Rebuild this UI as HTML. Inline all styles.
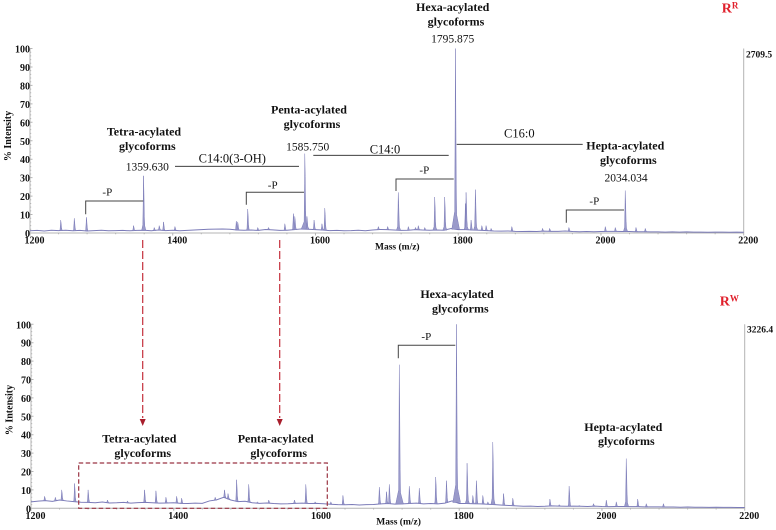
<!DOCTYPE html>
<html lang="en">
<head>
<meta charset="utf-8">
<title>MALDI spectra of RR and RW lipid A glycoforms</title>
<style>
html,body{margin:0;padding:0;background:#fff;}
svg{display:block;font-family:"Liberation Serif",serif;}
.tick{font-size:10px;font-weight:bold;fill:#111;}
.head{font-size:12px;font-weight:bold;fill:#111;text-anchor:middle;}
.val{font-size:11.5px;fill:#111;text-anchor:middle;}
.ann{font-size:12.5px;fill:#111;text-anchor:middle;}
.pl{font-size:11px;fill:#111;text-anchor:middle;}
.br{fill:none;stroke:#444;stroke-width:1;}
.ln{fill:none;stroke:#222;stroke-width:0.9;}
.ax{fill:none;stroke:#b4b4b4;stroke-width:1;}
.red{fill:#e0202c;font-weight:bold;}
</style>
</head>
<body>
<svg id="chart" width="776" height="530" viewBox="0 0 776 530" xmlns="http://www.w3.org/2000/svg">
  <g id="top-panel"></g>
  <g id="bottom-panel"></g>

  <!-- Top panel annotations -->
  <text class="tick" transform="translate(11,136) rotate(-90)" text-anchor="middle">% Intensity</text>
  <text class="tick" x="375" y="249.5" style="font-size:9.5px">Mass (m/z)</text>
  <text class="tick" x="746" y="57.3" style="font-size:9.5px">2709.5</text>

  <text class="head" x="144" y="135.7">Tetra-acylated</text>
  <text class="head" x="147.3" y="150">glycoforms</text>
  <text class="val" x="147.3" y="170.7">1359.630</text>
  <text class="head" x="309" y="113.7">Penta-acylated</text>
  <text class="head" x="312" y="128">glycoforms</text>
  <text class="val" x="307.7" y="150.7">1585.750</text>
  <text class="head" x="452.7" y="11">Hexa-acylated</text>
  <text class="head" x="456" y="25.3">glycoforms</text>
  <text class="val" x="452.7" y="42.3">1795.875</text>
  <text class="head" x="625.3" y="149.7">Hepta-acylated</text>
  <text class="head" x="628.3" y="164">glycoforms</text>
  <text class="val" x="626" y="181.7">2034.034</text>

  <text class="ann" x="232.3" y="162.7">C14:0(3-OH)</text>
  <path class="ln" d="M175 166.3H299"/>
  <text class="ann" x="385" y="153.3">C14:0</text>
  <path class="ln" d="M313.3 155.3H448.7"/>
  <text class="ann" x="519.3" y="137.3">C16:0</text>
  <path class="ln" d="M456.7 144.3H582.7"/>

  <text class="pl" x="107.3" y="195.7">-P</text>
  <path class="br" d="M85.7 214.3V201H143.3"/>
  <text class="pl" x="272.7" y="188.7">-P</text>
  <path class="br" d="M246.3 204.7V192.3H304"/>
  <text class="pl" x="424.3" y="173.3">-P</text>
  <path class="br" d="M396 191V179H453.7"/>
  <text class="pl" x="594.3" y="204.7">-P</text>
  <path class="br" d="M566.3 222.7V210H624"/>

  <text class="red" x="721.7" y="12.7" style="font-size:14px">R<tspan dy="-4" style="font-size:9px">R</tspan></text>

  <!-- Bottom panel annotations -->
  <text class="tick" transform="translate(12.5,410) rotate(-90)" text-anchor="middle">% Intensity</text>
  <text class="tick" x="376.3" y="524.3" style="font-size:9.5px">Mass (m/z)</text>
  <text class="tick" x="747" y="332.7" style="font-size:9.5px">3226.4</text>

  <text class="head" x="457" y="298">Hexa-acylated</text>
  <text class="head" x="460.3" y="312.3">glycoforms</text>
  <text class="pl" x="426.3" y="340">-P</text>
  <path class="br" d="M398.3 358.3V345.3H455.3"/>
  <text class="head" x="623.3" y="431">Hepta-acylated</text>
  <text class="head" x="626.3" y="445">glycoforms</text>
  <text class="head" x="139.3" y="442.7">Tetra-acylated</text>
  <text class="head" x="142.7" y="457">glycoforms</text>
  <text class="head" x="275.7" y="442.7">Penta-acylated</text>
  <text class="head" x="278.7" y="457">glycoforms</text>
  <text class="red" x="719.7" y="305.7" style="font-size:14px">R<tspan dy="-4" style="font-size:9px">W</tspan></text>

  <rect x="78.7" y="463" width="248.6" height="45.3" fill="none" stroke="#9b3544" stroke-width="1.2" stroke-dasharray="4.5 2.5"/>
  <path d="M142.7 240V418" fill="none" stroke="#c4303c" stroke-width="1.2" stroke-dasharray="8 3"/>
  <path d="M139.7 419H145.7L142.7 426Z" fill="#a81e2c"/>
  <path d="M279.7 240V418" fill="none" stroke="#c4303c" stroke-width="1.2" stroke-dasharray="8 3"/>
  <path d="M276.7 419H282.7L279.7 426Z" fill="#a81e2c"/>
</svg>

<script>
const massTicks = [1200, 1400, 1600, 1800, 2000, 2200];
const intensityTicks = [0, 10, 20, 30, 40, 50, 60, 70, 80, 90, 100];

// Baseline intensity read every 10 m/z, from 1200 to 2200
const baselineMass = [1200,1210,1220,1230,1240,1250,1260,1270,1280,1290,1300,1310,1320,1330,1340,1350,1360,1370,1380,1390,1400,1410,1420,1430,1440,1450,1460,1470,1480,1490,1500,1510,1520,1530,1540,1550,1560,1570,1580,1590,1600,1610,1620,1630,1640,1650,1660,1670,1680,1690,1700,1710,1720,1730,1740,1750,1760,1770,1780,1790,1800,1810,1820,1830,1840,1850,1860,1870,1880,1890,1900,1910,1920,1930,1940,1950,1960,1970,1980,1990,2000,2010,2020,2030,2040,2050,2060,2070,2080,2090,2100,2110,2120,2130,2140,2150,2160,2170,2180,2190,2200];
const topBaseline = [1.2,1.4,1.1,1.5,1.3,1.5,1.2,1.4,1.1,1.3,1.5,1.2,1.3,1.4,1.2,1.4,1.5,1.2,1.6,1.3,1.5,1.2,1.4,1.6,1.8,2.0,2.1,2.2,2.0,1.6,1.5,1.6,1.4,1.9,1.7,1.4,1.5,1.8,2.2,2.0,1.8,1.6,1.3,1.4,1.2,1.3,1.5,1.2,1.6,1.9,1.8,1.6,1.4,1.5,1.8,1.6,1.5,1.6,1.5,2.4,1.8,1.8,1.6,1.5,1.3,1.1,1.0,1.1,0.9,0.8,0.9,0.8,1.0,0.9,0.9,1.1,0.8,0.7,0.8,0.7,0.8,0.9,0.9,0.8,0.8,0.7,0.7,0.6,0.6,0.5,0.6,0.5,0.6,0.5,0.5,0.4,0.5,0.5,0.4,0.5,0.4];
const bottomBaseline = [3.5,3.9,4.2,3.8,4.5,4.0,3.6,3.3,3.2,3.0,3.4,2.9,3.0,3.2,2.8,3.1,3.2,3.0,2.8,2.9,3.0,2.7,2.6,2.8,2.7,4.0,4.6,6.0,4.5,3.6,3.8,3.0,2.7,2.9,2.6,2.4,2.5,2.7,2.8,2.6,2.7,2.5,2.2,2.0,1.9,2.1,1.8,2.0,2.1,2.4,2.6,2.3,2.4,2.6,2.8,2.4,2.6,2.4,2.8,4.0,2.6,2.6,2.5,2.4,2.2,2.0,1.7,1.5,1.3,1.1,1.2,1.0,1.1,1.3,1.2,1.1,1.2,1.1,1.0,1.2,1.0,0.9,1.0,1.0,0.9,0.9,0.8,0.8,0.8,0.7,0.7,0.6,0.7,0.6,0.6,0.5,0.6,0.5,0.5,0.4,0.4];

// Top spectrum peaks
const topPeakMass = [1243,1262,1279,1345,1359,1374,1381,1387,1403,1489,1491,1505,1519,1534,1557,1569,1571,1585,1588,1598,1609,1613,1688,1701,1716,1730,1740,1744,1753,1767,1781,1796,1810,1811,1818,1824,1833,1839,1846,1875,1918,1928,1955,2006,2020,2034,2049,2062];
const topPeakIntensity = [7,8,8.5,4,31,3,4,6,3.5,6.5,6,13,3,3,5,10.5,9,43,9,7,5,13.5,3.5,3.5,22,3.5,3,4,3,19.5,19.5,100,16,22,7,23.5,4,4,2.5,3.5,2.5,2.5,3,3.5,3,23,3,2.5];

// Bottom spectrum peaks
const bottomPeakMass = [1219,1234,1243,1261,1280,1307,1335,1359,1375,1389,1404,1411,1458,1471,1476,1488,1505,1517,1533,1569,1585,1598,1620,1637,1688,1698,1702,1716,1730,1744,1767,1782,1796,1811,1819,1824,1833,1840,1847,1862,1875,1927,1940,1954,1968,1988,2006,2020,2034,2050,2062,2086];
const bottomPeakIntensity = [6.5,6,10,13.5,10,4.5,4,10,9.5,6,6.5,5.5,6,10,8,15.5,13,3.5,4.5,4.5,13,3.5,3.5,7,11.5,9,13,78,12,11,17,15,100,24.5,7,15,7,3.5,36,8,5.5,5,2,12,1.5,2.5,4.5,3.5,27,5,2.5,2.5];

const NS = 'http://www.w3.org/2000/svg';

function baselineAt(mass, series) {
  const step = baselineMass[1] - baselineMass[0];
  const i = Math.min(baselineMass.length - 2, Math.max(0, Math.floor((mass - baselineMass[0]) / step)));
  const t = (mass - baselineMass[i]) / step;
  return series[i] + (series[i + 1] - series[i]) * t;
}

function drawPanel(root, geo, baseline, peakMass, peakIntensity) {
  const xScale = function (m) { return geo.x0 + (m - 1200) * (geo.x1 - geo.x0) / 1000; };
  const yScale = function (v) { return geo.y0 - v * (geo.y0 - geo.y100) / 100; };

  // Axes
  const axes = document.createElementNS(NS, 'path');
  
  
  axes.setAttribute('class', 'ax');
  let axisPath = 'M' + geo.x0 + ' ' + geo.y100 + 'V' + geo.y0 + 'H' + geo.x1 + 'V' + geo.y100;
  for (let v = 0; v <= 100; v += 2) {
    const len = v % 10 === 0 ? 2.5 : 1.2;
    axisPath += 'M' + geo.x0 + ' ' + yScale(v) + 'h' + len;
  }
  for (let m = 1200; m <= 2200; m += 40) {
    axisPath += 'M' + xScale(m) + ' ' + geo.y0 + 'v' + (m % 200 === 0 ? 2.5 : 1.2);
  }
  axes.setAttribute('d', axisPath);
  root.appendChild(axes);

  // Baseline trace: a line above the axis, unfilled
  let trace = '';
  baselineMass.forEach(function (m, i) {
    trace += (i === 0 ? 'M' : 'L') + xScale(m).toFixed(2) + ' ' + yScale(baseline[i]).toFixed(2);
  });
  const base = document.createElementNS(NS, 'path');
  
  
  base.setAttribute('d', trace);
  base.setAttribute('fill', 'none');
  base.setAttribute('stroke', '#7b7bb8');
  base.setAttribute('stroke-width', '1');
  root.appendChild(base);

  // Peaks rising from the baseline, narrow with a short isotope shoulder
  peakMass.forEach(function (m, i) {
    const h = peakIntensity[i];
    const b = baselineAt(m, baseline);
    const top = Math.max(h, b);
    const rise = top - b;
    const footW = rise > 40 ? 5 : (rise > 15 ? 2.5 : 1.4);
    const pts = [
      [m - footW, b],
      [m - 0.9, b + rise * 0.1],
      [m - 0.3, b + rise * 0.6],
      [m, top],
      [m + 0.6, b + rise * 0.7],
      [m + 1.2, b + rise * 0.25],
      [m + 1.8, b + rise * 0.08],
      [m + footW + 0.8, b]
    ];
    let d = '';
    pts.forEach(function (p, k) {
      d += (k === 0 ? 'M' : 'L') + xScale(p[0]).toFixed(2) + ' ' + yScale(p[1]).toFixed(2);
    });
    d += 'Z';
    const peak = document.createElementNS(NS, 'path');
    
    
    peak.setAttribute('d', d);
    peak.setAttribute('fill', '#9a9aca');
    peak.setAttribute('stroke', '#7b7bb8');
    peak.setAttribute('stroke-width', '0.5');
    root.appendChild(peak);
  });

  // Tick labels
  intensityTicks.forEach(function (v) {
    const t = document.createElementNS(NS, 'text');
    
    
    t.setAttribute('class', 'tick');
    t.setAttribute('x', geo.x0);
    t.setAttribute('y', (yScale(v) + 4).toFixed(1));
    t.setAttribute('text-anchor', 'end');
    t.textContent = v;
    root.appendChild(t);
  });
  massTicks.forEach(function (m) {
    const t = document.createElementNS(NS, 'text');
    
    
    t.setAttribute('class', 'tick');
    t.setAttribute('x', (xScale(m) + 4.5).toFixed(1));
    t.setAttribute('y', geo.y0 + 10.7);
    t.setAttribute('text-anchor', 'middle');
    t.textContent = m;
    root.appendChild(t);
  });
}

drawPanel(document.getElementById('top-panel'), {x0: 30, x1: 743.7, y0: 233, y100: 48.5}, topBaseline, topPeakMass, topPeakIntensity);
drawPanel(document.getElementById('bottom-panel'), {x0: 31, x1: 744.7, y0: 508.3, y100: 324.3}, bottomBaseline, bottomPeakMass, bottomPeakIntensity);
</script>
</body>
</html>
